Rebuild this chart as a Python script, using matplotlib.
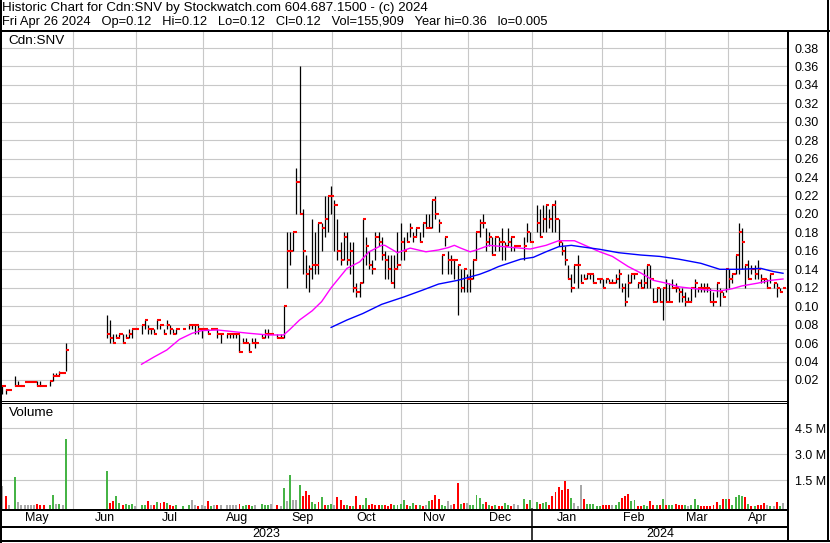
"""Stockwatch-style historic chart for Cdn:SNV: HLC bars, two moving
averages and a colour-coded volume panel, on a trading-day axis."""
import numpy as np
import matplotlib
matplotlib.use("Agg")
import matplotlib.pyplot as plt
from matplotlib.lines import Line2D
from matplotlib.transforms import blended_transform_factory

plt.rcParams["font.family"] = ["Liberation Sans", "DejaVu Sans"]

TITLE = "Historic Chart for Cdn:SNV by Stockwatch.com 604.687.1500 - (c) 2024"
SUBTITLE = ("Fri Apr 26 2024   Op=0.12   Hi=0.12   Lo=0.12   Cl=0.12   "
            "Vol=155,909   Year hi=0.36   lo=0.005")
SYMBOL = "Cdn:SNV"

N = None
# one entry per trading-day slot (None = no trade)
high = [
    .014, .010, .009, N, .024, .019, .013, .018, .018, .018,
    .018, .019, .019, .013, N, .019, .028, .028, .030, .028,
    .060, N, N, N, N, N, N, N, N, N,
    N, N, N, .090, .085, .070, .070, .070, .070, .070,
    .075, .075, .075, N, .080, .085, .080, .075, .075, .085,
    .080, .075, .085, .080, .075, .075, N, .075, N, .080,
    .080, .080, .080, .075, .075, .075, .075, .075, .075, .070,
    N, .070, .070, .070, .070, .070, .065, .065, .060, .065,
    .065, N, .070, .075, .075, .070, N, .070, .070, .100,
    .180, .180, .180, .250, .360, .205, .155, .145, .195, .180,
    .190, .190, .220, .220, .230, .215, .195, .170, .180, .180,
    .170, .170, .125, .125, .195, .175, .160, .150, .180, .180,
    .175, .160, .155, .155, .155, .180, .190, .175, .180, .190,
    .180, .185, .180, .190, .200, .200, .215, .220, .195, .155,
    .175, .160, .155, .150, .145, .140, .140, .135, .140, .150,
    .180, .195, .200, .185, .180, .175, .175, .175, .185, .170,
    .185, .175, .165, .165, N, .175, .190, .180, N, .210,
    .205, .210, .210, .205, .210, .215, .195, .170, .165, .145,
    .135, .145, .155, .135, .135, .135, .135, .135, .130, .130,
    .130, .130, .130, .130, .135, .140, .125, .125, .135, .135,
    .135, .125, .130, .140, .145, .145, .120, .120, .120, .120,
    .130, .125, .130, .125, .120, .120, .115, .110, .120, .130,
    .120, .125, .125, .125, .120, .115, .125, .120, .115, .140,
    .140, .135, .155, .190, .185, .145, .150, .145, .145, .150,
    .135, .130, .130, .135, .125, .125, .120, .120,
]
low = [
    .005, .005, .009, N, .013, .013, .013, .018, .018, .018,
    .018, .013, .013, .013, N, .013, .019, .024, .024, .028,
    .030, N, N, N, N, N, N, N, N, N,
    N, N, N, .065, .060, .060, .065, .065, .060, .065,
    .065, .065, .075, N, .070, .075, .070, .070, .070, .075,
    .075, .070, .075, .070, .070, .070, N, .075, N, .075,
    .075, .070, .070, .065, .075, .070, .075, .075, .065, .060,
    N, .065, .065, .065, .065, .050, .060, .060, .050, .060,
    .055, N, .065, .065, .065, .070, N, .065, .065, .065,
    .120, .145, .160, .200, .200, .135, .120, .115, .130, .135,
    .135, .160, .175, .180, .200, .160, .150, .145, .150, .145,
    .135, .115, .110, .110, .125, .145, .140, .135, .150, .165,
    .150, .130, .130, .125, .120, .140, .150, .150, .170, .175,
    .170, .175, .170, .175, .185, .185, .185, .195, .180, .135,
    .165, .135, .135, .130, .090, .115, .115, .115, .115, .130,
    .150, .175, .185, .160, .165, .155, .160, .160, .150, .150,
    .165, .160, .160, .165, N, .150, .170, .170, N, .180,
    .175, .180, .180, .185, .180, .180, .165, .155, .145, .130,
    .115, .125, .120, .125, .130, .130, .130, .125, .130, .125,
    .120, .125, .125, .125, .125, .120, .115, .100, .110, .125,
    .130, .120, .120, .120, .120, .120, .105, .105, .105, .085,
    .105, .105, .120, .115, .105, .105, .100, .105, .105, .110,
    .115, .115, .115, .115, .105, .100, .110, .100, .110, .115,
    .120, .125, .135, .135, .140, .120, .130, .135, .130, .130,
    .125, .125, .120, .125, .120, .110, .115, .120,
]
close = [
    .013, .009, .009, N, .013, .013, .013, .018, .018, .018,
    .018, .013, .013, .013, N, .019, .024, .024, .028, .028,
    .053, N, N, N, N, N, N, N, N, N,
    N, N, N, .070, .065, .060, .065, .070, .060, .065,
    .070, .075, .075, N, .080, .085, .075, .075, .070, .085,
    .080, .070, .080, .075, .070, .075, N, .075, N, .080,
    .080, .080, .075, .075, .075, .070, .075, .075, .070, .070,
    N, .070, .070, .070, .070, .050, .060, .060, .050, .060,
    .060, N, .065, .070, .070, .070, N, .065, .065, .100,
    .160, .160, .180, .235, .200, .160, .135, .140, .145, .145,
    .190, .185, .195, .220, .220, .210, .160, .150, .175, .150,
    .160, .120, .115, .125, .195, .165, .145, .140, .175, .170,
    .155, .150, .140, .125, .140, .145, .170, .160, .170, .185,
    .175, .185, .170, .190, .185, .185, .215, .200, .190, .155,
    .175, .150, .150, .150, .145, .120, .140, .130, .130, .150,
    .180, .190, .190, .170, .175, .155, .175, .170, .170, .165,
    .170, .175, .165, .165, N, .165, .180, .170, N, .190,
    .175, .195, .210, .195, .210, .195, .170, .160, .150, .130,
    .120, .145, .145, .125, .130, .135, .135, .125, .130, .130,
    .120, .130, .125, .125, .130, .135, .120, .105, .125, .135,
    .135, .125, .120, .125, .145, .130, .105, .120, .105, .120,
    .105, .105, .120, .120, .115, .110, .105, .105, .120, .125,
    .120, .120, .120, .120, .105, .105, .125, .115, .110, .140,
    .130, .135, .155, .180, .170, .145, .130, .140, .135, .140,
    .130, .130, .120, .135, .125, .120, .115, .120,
]
# volume in millions of shares
volume = [
    1.15, .57, .03, 0, 1.65, .24, .05, .03, .03, .03,
    .03, .08, .05, .05, 0, .04, .63, .08, .12, .05,
    3.88, 0, 0, 0, 0, 0, 0, 0, 0, 0,
    0, 0, 0, 2.04, .19, .28, .57, .15, .05, .11,
    .03, .11, .02, 0, .03, .05, .28, .03, .03, .24,
    .15, .20, .15, .03, .02, .03, 0, .02, 0, .05,
    .34, .03, .02, .03, .02, .30, .02, .03, .03, .03,
    0, .03, .03, .03, .03, .11, .02, .03, .05, .02,
    .03, 0, .09, .03, .03, .11, 0, .03, .02, 1.05,
    .30, 1.79, .34, .34, 1.21, .57, .86, .63, .20, .11,
    .20, .49, .05, .05, .11, .03, .49, .34, .03, .03,
    .02, .02, .57, .05, .03, .47, .05, .11, .05, .05,
    .05, .03, .02, .11, .05, .05, .11, .34, .05, .02,
    .15, .03, .05, .02, .03, .28, .34, .63, .38, .03,
    .02, .28, .03, .11, 1.35, .11, .15, .19, .05, .03,
    .63, .44, .11, .24, .03, .02, .03, .02, .02, .15,
    .03, .02, .09, .03, 0, .40, .11, .34, 0, .24,
    .11, .15, .20, .05, .57, .82, 1.07, .92, 1.44, .96,
    .47, .19, .02, 1.21, .40, .09, .09, .09, .02, .02,
    .05, .03, .05, .03, .05, .24, .47, .57, .69, .28,
    .34, .02, .02, .03, .02, .30, .03, .03, .04, .40,
    .03, .04, .05, .11, .03, .03, .05, .02, .05, .40,
    .03, .02, .01, .01, .02, .03, .24, .03, .40, .40,
    .40, .03, .49, .63, .57, .49, .11, .02, .02, .05,
    .03, .15, .03, .02, .02, .20, .01, .156,
]
# u = up day, d = down day, n = unchanged, - = no trade
vol_dir = (
    "ndn-unnnnn" "nddd-uunun" "u---------" "---udduudu" "uun-uudndu"
    "dduddu-u-u" "nndnndundn" "-nnnnduudu" "n-uuun-dnu" "nunnuddduu"
    "duduundddu" "dudduudddd" "uddduuuudu" "ududnudddu" "unnddudnuu"
    "uuudududdu" "udnn-udu-u" "duuddddddd" "unnnduuuuu" "dddnuudddu"
    "udduuddudu" "duudddunuu" "uddddddudu" "duuuududud" "ddnundun"
)

# moving averages (slot, value)
ma_short_slot = [44, 48, 52, 56, 60, 63, 68, 73, 78, 84, 89, 91, 94, 98, 101,
                 104, 109, 113, 116, 120, 121, 125, 129, 134, 138, 141, 143,
                 145, 148, 150, 154, 162, 167, 172, 176, 181, 185, 189, 193,
                 198, 202, 206, 210, 214, 219, 223, 227, 231, 234, 239, 243, 247]
ma_short = [.037, .045, .0525, .064, .0706, .0735, .0742, .0724, .0706, .0688,
            .0688, .075, .085, .095, .105, .12, .141, .148, .159, .166, .166,
            .158, .163, .159, .161, .1635, .166, .163, .159, .161, .166, .1635,
            .162, .166, .171, .171, .165, .159, .154, .143, .136, .128, .125,
            .121, .119, .1175, .1165, .119, .122, .125, .128, .1295]
ma_long_slot = [104, 109, 114, 120, 127, 133, 138, 144, 151, 154, 157, 164, 168,
                172, 176, 180, 183, 189, 195, 202, 208, 214, 221, 227, 233, 240,
                244, 247]
ma_long = [.077, .085, .092, .102, .110, .1175, .124, .128, .1346, .1385, .143,
           .151, .153, .159, .1645, .166, .1645, .1617, .158, .1555, .154, .151,
           .1465, .140, .140, .141, .1375, .1357]

month_names = ["May", "Jun", "Jul", "Aug", "Sep", "Oct", "Nov", "Dec",
               "Jan", "Feb", "Mar", "Apr"]
# slot position of each month boundary (Jun .. Apr)
month_starts = [22.3, 42.3, 63.4, 85.3, 104.3, 126.1, 147.3, 167.6, 189.7,
                209.7, 229.6]
years = ["2023", "2024"]
year_break = 7  # index into month_starts where 2024 begins

price_ticks = np.round(np.arange(0.02, 0.381, 0.02), 2)
vol_ticks = [1.5, 3.0, 4.5]

W, H = 830, 543
XLIM = (-0.79, 248.58)
PRICE_LIM = (-0.0023, 0.3974)
VOL_LIM = (-0.165, 5.91)
GRID = "#c8c8c8"
VOL_COLORS = {"u": "#46b446", "d": "#ff0000", "n": "#a8a8a8"}
TITLE_SIZE = 9.65
HEADER_SIZE = 9.3
LABEL_SIZE = 9.7


def fx(px):
    return px / W


def fy(py):
    return 1 - py / H


def to_arr(vals):
    return np.array([np.nan if v is None else v for v in vals], dtype=float)


fig = plt.figure(figsize=(W / 100, H / 100), dpi=100)
ax_p = fig.add_axes([0, fy(400.5), fx(788), (400.5 - 32) / H])
ax_v = fig.add_axes([0, fy(508.7), fx(788), (508.7 - 404) / H])

for ax in (ax_p, ax_v):
    ax.set_xlim(*XLIM)
    for s in ax.spines.values():
        s.set_visible(False)
    ax.set_xticks(month_starts)
    ax.tick_params(axis="x", length=0, labelbottom=False)
    ax.tick_params(axis="y", left=False, labelleft=False, right=False,
                   labelright=True, length=0, pad=5, labelsize=9)
    ax.grid(True, color=GRID, lw=0.8)
    ax.set_axisbelow(True)

ax_p.set_ylim(*PRICE_LIM)
ax_p.set_yticks(price_ticks)
ax_p.set_yticklabels([f"{t:.2f}" for t in price_ticks])
ax_v.set_ylim(*VOL_LIM)
ax_v.set_yticks(vol_ticks)
ax_v.set_yticklabels([f"{t:.1f} M" for t in vol_ticks])

# price bars
slots = np.arange(len(high))
h, l, c = to_arr(high), to_arr(low), to_arr(close)
ok = ~np.isnan(c)
ax_p.vlines(slots[ok], l[ok], h[ok], colors="black", lw=0.9, zorder=3)
ax_p.hlines(c[ok], slots[ok], slots[ok] + 1.05, colors="#ff0000", lw=1.5,
            zorder=4)
ax_p.plot(ma_short_slot, ma_short, color="#ff00ff", lw=1.0, zorder=5)
ax_p.plot(ma_long_slot, ma_long, color="#0000ff", lw=1.0, zorder=5)

# volume bars
vol = np.array(volume, dtype=float)
has = np.array([d != "-" for d in vol_dir])
ax_v.bar(slots[has], vol[has] - VOL_LIM[0], bottom=VOL_LIM[0], width=0.62,
         color=[VOL_COLORS[d] for d in vol_dir if d != "-"], linewidth=0,
         zorder=3)

# month / year rows
tr = blended_transform_factory(ax_p.transData, fig.transFigure)
edges = [XLIM[0]] + month_starts + [XLIM[1]]
for i, name in enumerate(month_names):
    fig.text((edges[i] + edges[i + 1]) / 2, fy(518), name, transform=tr,
             ha="center", va="center", fontsize=9)
jan = month_starts[year_break]
fig.text((XLIM[0] + jan) / 2, fy(534), years[0], transform=tr,
         ha="center", va="center", fontsize=9)
fig.text((jan + XLIM[1]) / 2, fy(534), years[1], transform=tr,
         ha="center", va="center", fontsize=9)
fig.add_artist(Line2D([jan, jan], [fy(509), fy(541)], transform=tr,
                      color="black", lw=1.1))


def hline(y, x0, x1, px=2):
    fig.add_artist(Line2D([fx(x0), fx(x1)], [fy(y), fy(y)], color="black",
                          lw=px * 0.72, solid_capstyle="butt"))


def vline(x, y0, y1, px=2):
    fig.add_artist(Line2D([fx(x), fx(x)], [fy(y0), fy(y1)], color="black",
                          lw=px * 0.72, solid_capstyle="butt"))


hline(30.8, 0, 830)
hline(401.3, 0, 788, 1)
hline(403.3, 0, 788, 1)
hline(509.7, 0, 788)
hline(527, 0, 788)
hline(541, 0, 830)
vline(1, 0, 543)
vline(788.3, 30, 542)
vline(828, 0, 542)

fig.text(fx(2), fy(8), TITLE, ha="left", va="center", fontsize=TITLE_SIZE)
fig.text(fx(2), fy(22), SUBTITLE, ha="left", va="center", fontsize=HEADER_SIZE)
fig.text(fx(8), fy(41), SYMBOL, ha="left", va="center", fontsize=LABEL_SIZE)
fig.text(fx(9), fy(413), "Volume", ha="left", va="center", fontsize=LABEL_SIZE)

fig.savefig("out.png", dpi=100)
